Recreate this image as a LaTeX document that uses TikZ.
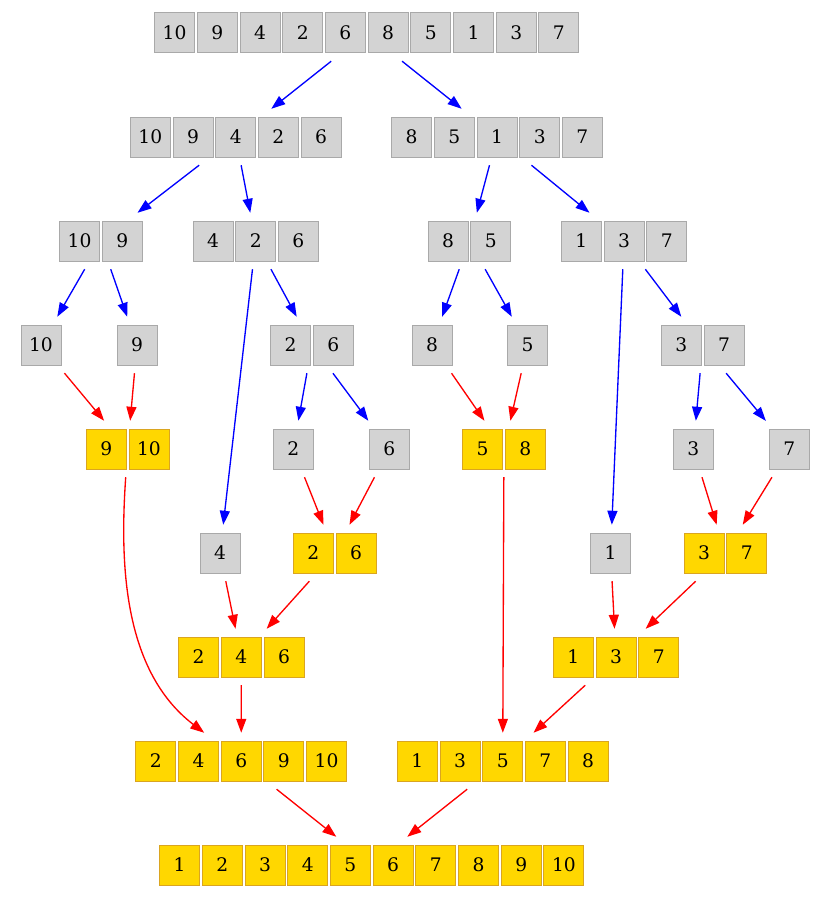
\documentclass[tikz,border=0pt]{standalone}
\usepackage{fontspec}
\setmainfont{DejaVu Serif}
\usepackage{xcolor}
\usetikzlibrary{arrows.meta,fit}

\definecolor{cellgray}{HTML}{D3D3D3}
\definecolor{cellline}{HTML}{A9A9A9}
\definecolor{sortgold}{HTML}{FFD700}
\definecolor{sortline}{HTML}{DAA520}

% one row of cells: name, count, left edge, y, style, values
\newcommand{\cellrow}[6]{%
  \foreach \v [count=\i] in {#6}
    \node[#5] (#1-\i) at ({#3+20.3+(\i-1)*42.7},#4) {\v};
  \node[group, fit=(#1-1) (#1-#2)] (#1) {};
}

\begin{document}
\begin{tikzpicture}[x=0.75pt,y=-0.75pt,
    font=\fontsize{14}{16}\selectfont,
    unsorted/.style={draw=cellline, fill=cellgray, line width=0.75pt, minimum size=30pt, inner sep=0pt},
    sorted/.style={unsorted, draw=sortline, fill=sortgold},
    group/.style={inner xsep=2pt, inner ysep=5.6pt},
    split/.style={draw=blue, line width=1pt, -{Triangle[length=10.5pt,width=7.5pt]}},
    merge/.style={split, draw=red}]
    \useasboundingbox (0,0) rectangle (831,899);

    % splitting
    \cellrow{all}{10}{154.3}{33}{unsorted}{10,9,4,2,6,8,5,1,3,7}
    \cellrow{l}{5}{130}{137}{unsorted}{10,9,4,2,6}
    \cellrow{r}{5}{391.3}{137}{unsorted}{8,5,1,3,7}
    \cellrow{ll}{2}{59.3}{241}{unsorted}{10,9}
    \cellrow{lr}{3}{192.7}{241}{unsorted}{4,2,6}
    \cellrow{rl}{2}{427.7}{241}{unsorted}{8,5}
    \cellrow{rr}{3}{561}{241}{unsorted}{1,3,7}
    \cellrow{lll}{1}{20.7}{345}{unsorted}{10}
    \cellrow{llr}{1}{116.7}{345}{unsorted}{9}
    \cellrow{lrr}{2}{270.3}{345}{unsorted}{2,6}
    \cellrow{rll}{1}{411.7}{345}{unsorted}{8}
    \cellrow{rlr}{1}{507.3}{345}{unsorted}{5}
    \cellrow{rrr}{2}{661}{345}{unsorted}{3,7}
    \cellrow{lrrl}{1}{273}{449}{unsorted}{2}
    \cellrow{lrrr}{1}{369}{449}{unsorted}{6}
    \cellrow{rrrl}{1}{673}{449}{unsorted}{3}
    \cellrow{rrrr}{1}{769}{449}{unsorted}{7}
    \cellrow{lrl}{1}{199.7}{553}{unsorted}{4}
    \cellrow{rrl}{1}{590.3}{553}{unsorted}{1}

    % merging
    \cellrow{mll}{2}{86}{449}{sorted}{9,10}
    \cellrow{mrl}{2}{462.3}{449}{sorted}{5,8}
    \cellrow{mlrr}{2}{293}{553}{sorted}{2,6}
    \cellrow{mrrr}{2}{683.7}{553}{sorted}{3,7}
    \cellrow{mlr}{3}{178.3}{657}{sorted}{2,4,6}
    \cellrow{mrr}{3}{553}{657}{sorted}{1,3,7}
    \cellrow{ml}{5}{135.5}{761}{sorted}{2,4,6,9,10}
    \cellrow{mr}{5}{397}{761}{sorted}{1,3,5,7,8}
    \cellrow{m}{10}{159.3}{865}{sorted}{1,2,3,4,5,6,7,8,9,10}

    \foreach \a/\b in {all/l, all/r, l/ll, l/lr, r/rl, r/rr, ll/lll, ll/llr,
        lr/lrl, lr/lrr, rl/rll, rl/rlr, rr/rrl, rr/rrr, lrr/lrrl, lrr/lrrr,
        rrr/rrrl, rrr/rrrr}
        \draw[split] (\a) -- (\b);
    \foreach \a/\b in {lll/mll, llr/mll, lrrl/mlrr, lrrr/mlrr, rll/mrl, rlr/mrl,
        rrrl/mrrr, rrrr/mrrr, lrl/mlr, mlrr/mlr, rrl/mrr, mrrr/mrr, mlr/ml,
        mrl/mr, mrr/mr, ml/m, mr/m}
        \draw[merge] (\a) -- (\b);
    \draw[merge] (mll) .. controls (120,560) and (122,670) .. (ml);
\end{tikzpicture}
\end{document}
